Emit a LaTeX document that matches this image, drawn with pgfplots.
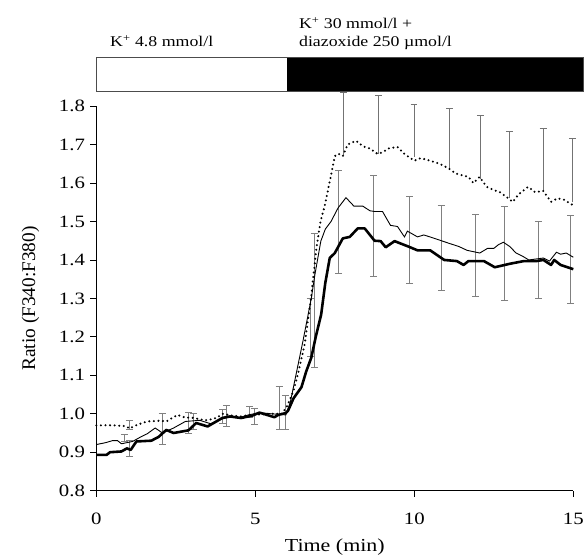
\documentclass[border=0pt]{standalone}
\usepackage{fontspec}
\setmainfont{Liberation Serif}[FakeStretch=1.2]
\newfontfamily\plainserif{Liberation Serif}
\usepackage{pgfplots}
\usepackage{pgfplotstable}
\pgfplotsset{compat=1.18}

% dotted series
\pgfplotstableread{
t y
0 0.970
0.5 0.970
0.9 0.968
1.05 0.962
1.3 0.972
1.6 0.980
2.0 0.982
2.2 0.980
2.55 0.997
2.8 0.990
3.0 0.990
3.3 0.985
3.5 0.983
3.8 0.990
3.96 1.000
4.3 0.995
4.55 0.993
4.8 0.997
5.1 0.998
5.5 1.000
5.84 1.000
6.0 1.020
6.2 1.060
6.34 1.103
6.55 1.180
6.75 1.300
6.92 1.430
7.05 1.500
7.18 1.540
7.38 1.620
7.5 1.670
7.62 1.676
7.75 1.670
7.9 1.700
8.16 1.710
8.4 1.695
8.6 1.690
8.84 1.676
9.0 1.680
9.2 1.690
9.47 1.694
9.7 1.675
10.0 1.658
10.2 1.665
10.5 1.658
10.8 1.650
11.1 1.637
11.3 1.625
11.55 1.619
11.7 1.616
11.86 1.600
12.05 1.616
12.28 1.590
12.5 1.582
12.7 1.576
12.96 1.560
13.1 1.551
13.27 1.570
13.58 1.590
13.8 1.576
14.05 1.580
14.3 1.551
14.5 1.560
14.68 1.558
15.0 1.542
}\dotdata

% thin series
\pgfplotstableread{
t y
0 0.920
0.3 0.925
0.5 0.930
0.67 0.930
0.79 0.922
1.14 0.928
1.4 0.940
1.6 0.948
1.85 0.963
2.08 0.950
2.43 0.963
2.8 0.980
3.25 0.983
3.6 0.974
3.9 0.985
4.2 0.993
4.5 0.990
4.78 0.997
5.13 1.003
5.5 1.000
5.96 0.997
6.1 1.030
6.3 1.110
6.5 1.190
6.76 1.300
6.87 1.360
7.06 1.449
7.2 1.480
7.38 1.500
7.6 1.535
7.85 1.562
8.1 1.540
8.38 1.540
8.6 1.528
8.75 1.526
9.0 1.526
9.25 1.490
9.47 1.487
9.69 1.460
9.78 1.475
10.1 1.460
10.3 1.465
10.6 1.457
10.85 1.450
11.1 1.443
11.4 1.435
11.66 1.425
12.06 1.418
12.3 1.430
12.5 1.430
12.65 1.440
12.8 1.446
13.0 1.435
13.2 1.418
13.4 1.410
13.6 1.400
14.06 1.405
14.25 1.397
14.47 1.420
14.6 1.415
14.78 1.418
15.0 1.407
}\thindata

% thick series
\pgfplotstableread{
t y
0 0.893
0.32 0.893
0.43 0.900
0.79 0.902
0.96 0.910
1.08 0.906
1.26 0.928
1.73 0.930
1.96 0.940
2.2 0.958
2.43 0.950
2.9 0.957
3.14 0.976
3.5 0.967
3.96 0.989
4.2 0.993
4.55 0.989
4.9 0.995
5.13 1.003
5.37 0.997
5.6 0.991
5.72 0.997
5.96 1.002
6.03 1.008
6.2 1.040
6.45 1.069
6.6 1.110
6.76 1.146
6.9 1.200
7.07 1.258
7.2 1.340
7.34 1.405
7.5 1.418
7.75 1.456
7.97 1.460
8.22 1.482
8.44 1.482
8.75 1.450
8.94 1.449
9.1 1.433
9.38 1.449
9.56 1.443
9.78 1.436
10.1 1.425
10.5 1.425
10.94 1.400
11.34 1.397
11.55 1.387
11.7 1.397
12.19 1.397
12.53 1.381
13.0 1.390
13.44 1.397
13.84 1.397
14.06 1.400
14.3 1.387
14.4 1.400
14.6 1.387
15.0 1.376
}\thickdata

% error bars: centre and half-length (symmetric)
\pgfplotstableread{
t c e
0.88 0.936 0.009
1.03 0.9705 0.0125
1.05 0.909 0.021
2.07 0.960 0.040
2.9 0.9755 0.0275
3.05 0.980 0.020
3.98 0.9935 0.0185
4.1 0.994 0.027
4.83 1.0045 0.0145
4.97 0.9935 0.0215
5.75 1.015 0.055
5.95 1.0035 0.0435
6.72 1.225 0.075
6.85 1.295 0.175
7.62 1.4985 0.1345
8.72 1.4885 0.1315
9.85 1.452 0.114
10.84 1.4315 0.1105
11.93 1.4115 0.1075
12.85 1.4165 0.1215
13.9 1.401 0.100
14.92 1.402 0.115
}\errsym

% dotted series upward bars: value on curve and upward length
\pgfplotstableread{
t c e
7.77 1.672 0.163
8.875 1.676 0.151
9.99 1.668 0.137
11.12 1.637 0.157
12.08 1.610 0.165
12.99 1.560 0.175
14.05 1.580 0.162
14.97 1.550 0.167
}\errup

\begin{document}
\begin{tikzpicture}
\begin{axis}[
  scale only axis,
  width=480bp, height=387bp,
  xmin=0, xmax=15, ymin=0.8, ymax=1.8,
  axis x line*=bottom, axis y line*=left,
  axis line style={line width=1.1bp, black},
  xtick={0,5,10,15},
  ytick={0.8,0.9,1.0,1.1,1.2,1.3,1.4,1.5,1.6,1.7,1.8},
  tick align=outside,
  major tick length=6bp,
  tick style={line width=0.9bp, black},
  /pgf/number format/assume math mode=true,
  tick label style={font=\fontsize{17.5}{21}\selectfont},
  xticklabel style={yshift=-13bp},
  yticklabel style={xshift=-2bp, /pgf/number format/.cd, fixed, fixed zerofill, precision=1},
  xlabel={Time (min)},
  ylabel={\plainserif Ratio (F340:F380)},
  xlabel style={font=\fontsize{18.5}{22}\selectfont, at={(axis description cs:0.5,-0.148)}, anchor=center},
  ylabel style={font=\fontsize{19.5}{22}\selectfont, at={(axis description cs:-0.138,0.5)}, anchor=center},
  clip=false,
]
% invisible bounding frame
\path (axis cs:-3.03,0.6295) rectangle (axis cs:15.31,2.076);

% treatment bar
\fill[black] (axis cs:6,1.838) rectangle (axis cs:15.31,1.927);
\draw[line width=0.8bp, black!70] (axis cs:0,1.838) rectangle (axis cs:15.31,1.927);
\node[anchor=base west, font=\fontsize{15}{18}\selectfont, inner sep=0pt] at (axis cs:0.43,1.9558) {K\textsuperscript{+} 4.8 mmol/l};
\node[anchor=base west, font=\fontsize{15}{18}\selectfont, inner sep=0pt] at (axis cs:6.37,2.0016) {K\textsuperscript{+} 30 mmol/l +};
\node[anchor=base west, font=\fontsize{15}{18}\selectfont, inner sep=0pt] at (axis cs:6.37,1.9558) {diazoxide 250 µmol/l};

% error bars
\addplot[draw=none, mark=none, forget plot,
  error bars/.cd, y dir=both, y explicit,
  error bar style={draw=black!50, line width=0.9bp},
  error mark options={draw=black!50, line width=0.9bp, mark size=3.5bp, rotate=90}]
  table[x=t, y=c, y error=e] {\errsym};
\addplot[draw=none, mark=none, forget plot,
  error bars/.cd, y dir=plus, y explicit,
  error bar style={draw=black!55, line width=0.9bp},
  error mark options={draw=black!55, line width=0.9bp, mark size=3.5bp, rotate=90}]
  table[x=t, y=c, y error=e] {\errup};

% series
\addplot[black, line width=2.3bp, line cap=round, dash pattern=on 0pt off 4.6bp] table[x=t,y=y] {\dotdata};
\addplot[black, line width=0.9bp] table[x=t,y=y] {\thindata};
\addplot[black, line width=2.6bp, line join=round] table[x=t,y=y] {\thickdata};
\end{axis}
\end{tikzpicture}
\end{document}
